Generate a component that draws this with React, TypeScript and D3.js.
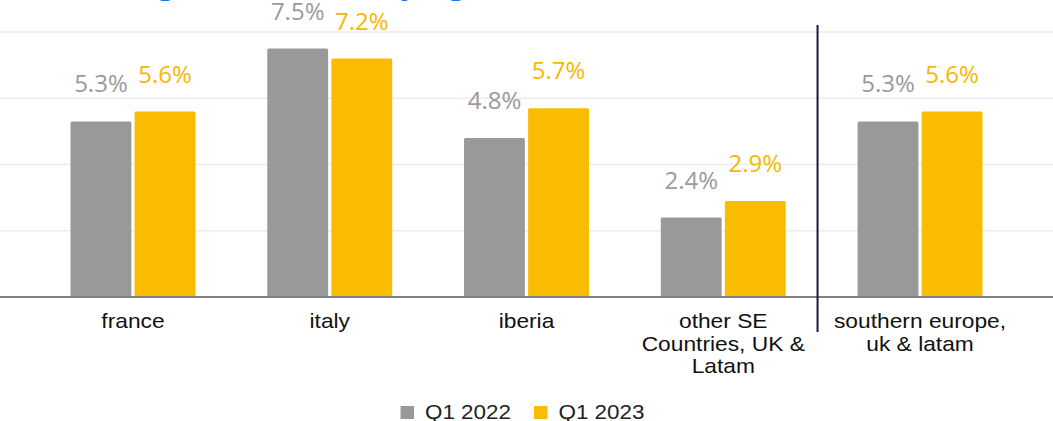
import React from "react";
import * as d3 from "d3";

const categories: string[][] = [
  ["france"],
  ["italy"],
  ["iberia"],
  ["other SE", "Countries, UK &", "Latam"],
  ["southern europe,", "uk & latam"],
];
const categoryKeys = ["france", "italy", "iberia", "other", "southern"];
const seriesNames = ["Q1 2022", "Q1 2023"];
const q1_2022 = [5.3, 7.5, 4.8, 2.4, 5.3];
const q1_2023 = [5.6, 7.2, 5.7, 2.9, 5.6];
const gridTicks = [0, 2, 4, 6, 8];
const titleText = "EBITDA margin (% of underlying)";

const W = 1053;
const H = 421;
const COLORS = ["#999999", "#F9BC00"];
const LABEL_COLORS = ["#9a9a9a", "#F5B800"];

export default function App() {
  const y = d3.scaleLinear().domain([0, 8]).range([297, 32]);
  const x0 = d3
    .scaleBand<string>()
    .domain(categoryKeys)
    .range([34.6, 1018.4])
    .paddingInner(0.365)
    .paddingOuter(0.1825);
  const x1 = d3
    .scaleBand<string>()
    .domain(seriesNames)
    .range([0, x0.bandwidth()])
    .paddingInner(0.05)
    .paddingOuter(0);
  const series = [q1_2022, q1_2023];
  const sx = 1.15;
  const sepX = x0(categoryKeys[4])! - 40;

  return (
    <svg
      width={W}
      height={H}
      style={{ position: "absolute", left: 0, top: 0, background: "#fff" }}
    >
      <rect x={0} y={0} width={W} height={H} fill="#fff" />
      <text
        x={-25}
        y={-6}
        fill="#1a73e8"
        fontFamily="'Open Sans', sans-serif"
        fontWeight={700}
        fontSize={31}
      >
        {titleText}
      </text>
      {gridTicks
        .filter((t) => t > 0)
        .map((t) => (
          <line
            key={t}
            x1={0}
            x2={W}
            y1={y(t)}
            y2={y(t)}
            stroke="#ececec"
            strokeWidth={1.3}
          />
        ))}
      {categoryKeys.map((c, i) => (
        <g key={c} transform={`translate(${x0(c)},0)`}>
          {series.map((s, j) => {
            const bx = x1(seriesNames[j])!;
            const bw = x1.bandwidth();
            const top = y(s[i]);
            return (
              <g key={j}>
                <rect
                  x={bx}
                  y={top}
                  width={bw}
                  height={y(0) - top}
                  rx={1.5}
                  fill={COLORS[j]}
                />
                <text
                  x={bx + bw / 2}
                  y={top - 29}
                  textAnchor="middle"
                  fill={LABEL_COLORS[j]}
                  fontFamily="'Open Sans', sans-serif"
                  fontSize={24}
                  fontWeight={j === 1 ? 500 : 400}
                >
                  {s[i].toFixed(1) + "%"}
                </text>
              </g>
            );
          })}
        </g>
      ))}
      <line x1={0} x2={W} y1={y(0)} y2={y(0)} stroke="#808080" strokeWidth={2} />
      <line x1={sepX} x2={sepX} y1={25} y2={332} stroke="#141a45" strokeWidth={2} />
      {categoryKeys.map((c, i) => (
        <g
          key={c}
          transform={`translate(${x0(c)! + x0.bandwidth() / 2},0)`}
        >
          {categories[i].map((line, k) => (
            <g key={k} transform={`translate(0,${328 + k * 22.7}) scale(${sx},1)`}>
              <text
                textAnchor="middle"
                fill="#111"
                fontFamily="'Liberation Sans', Arial, sans-serif"
                fontSize={19.8}
              >
                {line}
              </text>
            </g>
          ))}
        </g>
      ))}
      {seriesNames.map((name, j) => {
        const lx = [400.5, 534][j];
        return (
          <g key={name}>
            <rect x={lx} y={406} width={13.5} height={13} fill={COLORS[j]} />
            <g transform={`translate(${lx + 24.5},418.5) scale(${sx},1)`}>
              <text
                fill="#222"
                fontFamily="'Liberation Sans', Arial, sans-serif"
                fontSize={19.5}
              >
                {name}
              </text>
            </g>
          </g>
        );
      })}
    </svg>
  );
}
